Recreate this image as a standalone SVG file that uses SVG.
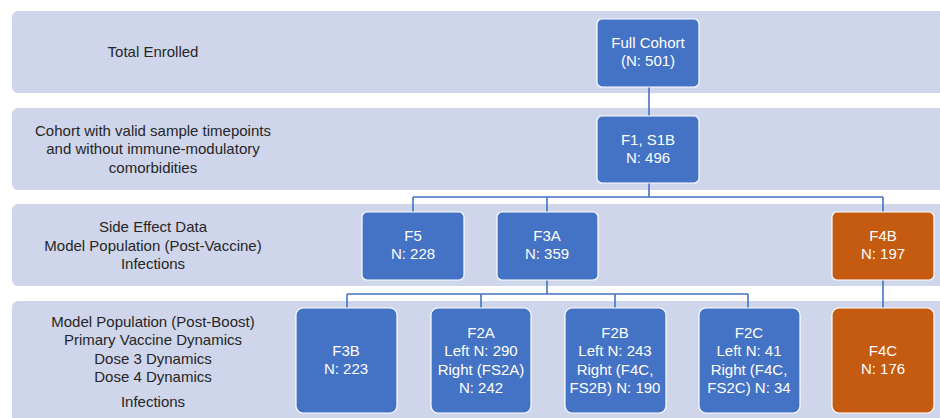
<svg xmlns="http://www.w3.org/2000/svg" width="940" height="418" viewBox="0 0 940 418">
<style>
.band{fill:#CFD5EA}
.lbl{font-family:"Liberation Sans",Arial,sans-serif;font-size:15px;fill:#262626;text-anchor:middle}
.nb{fill:#4472C4;stroke:#ffffff;stroke-width:1.2}
.no{fill:#C55A11;stroke:#ffffff;stroke-width:1.2}
.nt{font-family:"Liberation Sans",Arial,sans-serif;font-size:15px;fill:#ffffff;text-anchor:middle}
.con{stroke:#4472C4;stroke-width:1.6;fill:none}
</style>
<rect width="940" height="418" fill="#ffffff"/>
<g id="bands">
<rect class="band" x="12" y="11" width="940" height="82" rx="6"/>
<rect class="band" x="12" y="108" width="940" height="82" rx="6"/>
<rect class="band" x="12" y="204" width="940" height="82" rx="6"/>
<rect class="band" x="12" y="301" width="940" height="130" rx="6"/>
</g>
<g id="labels">
<text class="lbl" x="153" y="57">Total Enrolled</text>
<text class="lbl" x="153" y="136">Cohort with valid sample timepoints</text>
<text class="lbl" x="153" y="154">and without immune-modulatory</text>
<text class="lbl" x="153" y="173">comorbidities</text>
<text class="lbl" x="153" y="232">Side Effect Data</text>
<text class="lbl" x="153" y="251">Model Population (Post-Vaccine)</text>
<text class="lbl" x="153" y="269">Infections</text>
<text class="lbl" x="153" y="327">Model Population (Post-Boost)</text>
<text class="lbl" x="153" y="345">Primary Vaccine Dynamics</text>
<text class="lbl" x="153" y="364">Dose 3 Dynamics</text>
<text class="lbl" x="153" y="382">Dose 4 Dynamics</text>
<text class="lbl" x="153" y="407">Infections</text>
</g>
<g id="connectors">
<line class="con" x1="649" y1="87" x2="649" y2="116"/>
<polyline class="con" points="649,183 649,197"/>
<line class="con" x1="413" y1="197" x2="883" y2="197"/>
<line class="con" x1="413" y1="197" x2="413" y2="212"/>
<line class="con" x1="547" y1="197" x2="547" y2="212"/>
<line class="con" x1="883" y1="197" x2="883" y2="212"/>
<line class="con" x1="547" y1="280" x2="547" y2="294"/>
<line class="con" x1="347" y1="294" x2="748" y2="294"/>
<line class="con" x1="347" y1="294" x2="347" y2="308"/>
<line class="con" x1="481" y1="294" x2="481" y2="308"/>
<line class="con" x1="615" y1="294" x2="615" y2="308"/>
<line class="con" x1="748" y1="294" x2="748" y2="308"/>
<line class="con" x1="883" y1="280" x2="883" y2="308"/>
</g>
<g id="full-cohort">
<rect class="nb" x="597" y="19" width="102" height="68" rx="5"/>
<text class="nt" x="648" y="48">Full Cohort</text>
<text class="nt" x="648" y="66">(N: 501)</text>
</g>
<g id="f1-s1b">
<rect class="nb" x="597" y="116" width="102" height="67" rx="5"/>
<text class="nt" x="648" y="145">F1, S1B</text>
<text class="nt" x="648" y="163">N: 496</text>
</g>
<g id="f5">
<rect class="nb" x="362" y="212" width="102" height="68" rx="5"/>
<text class="nt" x="413" y="241">F5</text>
<text class="nt" x="413" y="259">N: 228</text>
</g>
<g id="f3a">
<rect class="nb" x="497" y="212" width="101" height="68" rx="5"/>
<text class="nt" x="547" y="241">F3A</text>
<text class="nt" x="547" y="259">N: 359</text>
</g>
<g id="f4b">
<rect class="no" x="832" y="212" width="102" height="68" rx="5"/>
<text class="nt" x="883" y="241">F4B</text>
<text class="nt" x="883" y="259">N: 197</text>
</g>
<g id="f3b">
<rect class="nb" x="296" y="308" width="101" height="105" rx="7"/>
<text class="nt" x="346" y="356">F3B</text>
<text class="nt" x="346" y="374">N: 223</text>
</g>
<g id="f2a">
<rect class="nb" x="431" y="308" width="100" height="105" rx="7"/>
<text class="nt" x="481" y="338">F2A</text>
<text class="nt" x="481" y="356">Left N: 290</text>
<text class="nt" x="481" y="375">Right (FS2A)</text>
<text class="nt" x="481" y="393">N: 242</text>
</g>
<g id="f2b">
<rect class="nb" x="565" y="308" width="101" height="105" rx="7"/>
<text class="nt" x="615" y="338">F2B</text>
<text class="nt" x="615" y="356">Left N: 243</text>
<text class="nt" x="615" y="375">Right (F4C,</text>
<text class="nt" x="615" y="393">FS2B) N: 190</text>
</g>
<g id="f2c">
<rect class="nb" x="699" y="308" width="101" height="105" rx="7"/>
<text class="nt" x="749" y="338">F2C</text>
<text class="nt" x="749" y="356">Left N: 41</text>
<text class="nt" x="749" y="375">Right (F4C,</text>
<text class="nt" x="749" y="393">FS2C) N: 34</text>
</g>
<g id="f4c">
<rect class="no" x="832" y="308" width="102" height="105" rx="7"/>
<text class="nt" x="883" y="356">F4C</text>
<text class="nt" x="883" y="374">N: 176</text>
</g>
</svg>
